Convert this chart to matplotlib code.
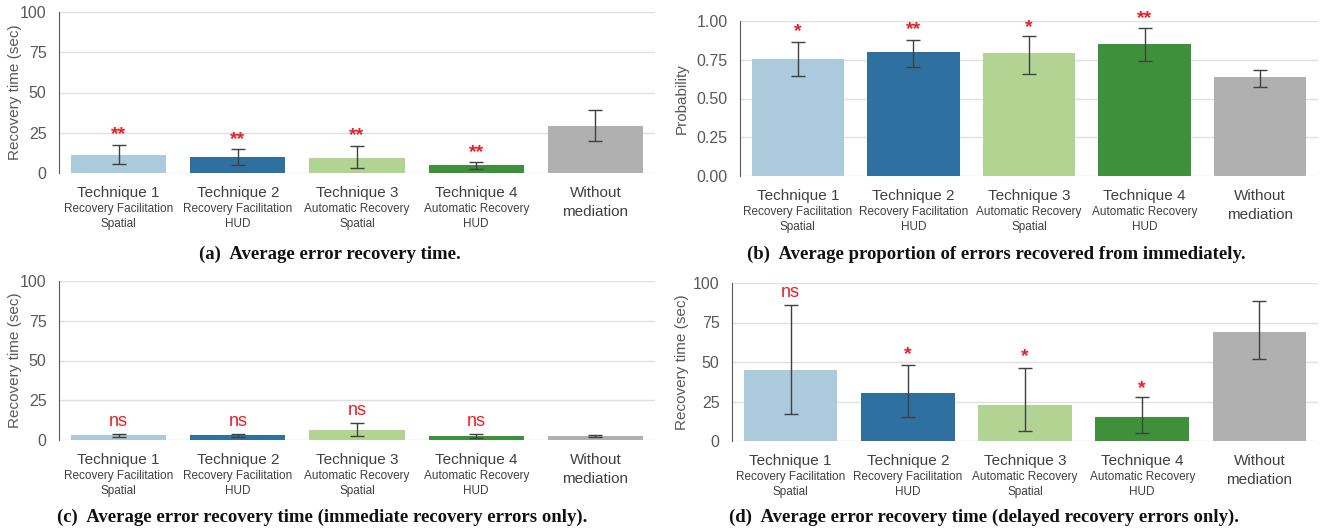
import matplotlib.pyplot as plt

plt.rcParams['font.family'] = ['Liberation Sans', 'DejaVu Sans']

techniques = ['Technique 1', 'Technique 2', 'Technique 3', 'Technique 4']
subtypes = ['Recovery Facilitation', 'Recovery Facilitation', 'Automatic Recovery', 'Automatic Recovery']
displays = ['Spatial', 'HUD', 'Spatial', 'HUD']
baseline_label = ['Without', 'mediation']
colors = ['#abcadb', '#2e71a0', '#b2d493', '#3e913a', '#b0b0b0']

# (a) average error recovery time
a_mean = [11.0, 9.8, 9.1, 4.8, 29.1]
a_low = [5.6, 5.2, 3.1, 2.3, 19.8]
a_high = [17.7, 15.0, 17.0, 6.9, 39.3]
a_sig = ['**', '**', '**', '**', '']
a_sig_y = [26.6, 23.5, 26.0, 15.2, 0]

# (b) proportion recovered immediately
b_mean = [0.757, 0.798, 0.791, 0.849, 0.637]
b_low = [0.643, 0.705, 0.658, 0.742, 0.576]
b_high = [0.865, 0.877, 0.905, 0.955, 0.684]
b_sig = ['*', '**', '*', '**', '']
b_sig_y = [0.957, 0.968, 0.985, 1.04, 0]

# (c) immediate recovery errors only
c_mean = [3.1, 3.1, 6.2, 2.3, 2.5]
c_low = [2.1, 2.1, 2.3, 1.4, 1.9]
c_high = [3.5, 3.5, 11.0, 3.7, 3.3]
c_sig = ['ns', 'ns', 'ns', 'ns', '']
c_sig_y = [11.4, 11.4, 18.6, 11.4, 0]

# (d) delayed recovery errors only
d_mean = [45.1, 30.6, 23.1, 14.9, 69.0]
d_low = [17.2, 15.3, 6.3, 4.8, 51.6]
d_high = [86.2, 47.8, 45.9, 27.7, 88.5]
d_sig = ['ns', '*', '*', '*', '']
d_sig_y = [94.0, 57.0, 56.0, 35.4, 0]

captions = ['(a)  Average error recovery time.',
            '(b)  Average proportion of errors recovered from immediately.',
            '(c)  Average error recovery time (immediate recovery errors only).',
            '(d)  Average error recovery time (delayed recovery errors only).']

W, H = 1320, 532
fig = plt.figure(figsize=(W / 100, H / 100), dpi=100)


def px_axes(x0, x1, ytop, ybot):
    return fig.add_axes([x0 / W, (H - ybot) / H, (x1 - x0) / W, (ybot - ytop) / H])


def draw_panel(ax, mean, low, high, sig, sig_y, ymax, ticks, ticklabels, ylabel, label_x):
    x = list(range(len(mean)))
    yerr = [[m - l for m, l in zip(mean, low)], [h - m for m, h in zip(mean, high)]]
    ax.bar(x, mean, width=0.8, color=colors, zorder=2)
    ax.errorbar(x, mean, yerr=yerr, fmt='none', ecolor='#404040', elinewidth=1,
                capsize=5, capthick=1, zorder=3)
    for i, s in enumerate(sig):
        if not s:
            continue
        if s == 'ns':
            ax.text(i, sig_y[i], s, color='#e8202a', fontsize=13, ha='center', va='center',
                    zorder=4, clip_on=False)
        else:
            ax.annotate(s, xy=(i, sig_y[i]), xytext=(0, -4), textcoords='offset pixels',
                        color='#e8202a', fontsize=14, fontweight='bold',
                        ha='center', va='center', zorder=4, annotation_clip=False)
    ax.set_xlim(-0.5, len(mean) - 0.5)
    ax.set_ylim(0, ymax)
    ax.set_yticks(ticks)
    ax.set_yticklabels(ticklabels, color='#595959', fontsize=11.5)
    ax.tick_params(axis='y', length=0, pad=9)
    ax.tick_params(axis='x', length=0)
    ax.set_xticks([])
    ax.grid(axis='y', color='#e0e0e0', lw=1, zorder=0)
    for s in ['top', 'right', 'bottom']:
        ax.spines[s].set_visible(False)
    ax.spines['left'].set_color('#595959')
    ax.set_ylabel(ylabel, color='#595959', fontsize=11)
    bb = ax.get_position()
    ax.yaxis.set_label_coords((label_x / W - bb.x0) / bb.width, 0.5)

    tr = ax.get_xaxis_transform()
    for i in range(4):
        ax.annotate(techniques[i], xy=(i, 0), xycoords=tr, xytext=(0, -20),
                    textcoords='offset pixels', ha='center', va='center',
                    fontsize=11, color='#404040')
        ax.annotate(subtypes[i], xy=(i, 0), xycoords=tr, xytext=(0, -36),
                    textcoords='offset pixels', ha='center', va='center',
                    fontsize=8.5, color='#404040')
        ax.annotate(displays[i], xy=(i, 0), xycoords=tr, xytext=(0, -51),
                    textcoords='offset pixels', ha='center', va='center',
                    fontsize=8.5, color='#404040')
    ax.annotate(baseline_label[0], xy=(4, 0), xycoords=tr, xytext=(0, -20),
                textcoords='offset pixels', ha='center', va='center',
                fontsize=11, color='#404040')
    ax.annotate(baseline_label[1], xy=(4, 0), xycoords=tr, xytext=(0, -39),
                textcoords='offset pixels', ha='center', va='center',
                fontsize=11, color='#404040')


sec_ticks = [0, 25, 50, 75, 100]
sec_labels = ['0', '25', '50', '75', '100']
prob_ticks = [0, 0.25, 0.5, 0.75, 1.0]
prob_labels = ['0.00', '0.25', '0.50', '0.75', '1.00']

ax_a = px_axes(59, 655, 12, 173)
draw_panel(ax_a, a_mean, a_low, a_high, a_sig, a_sig_y, 100, sec_ticks, sec_labels,
           'Recovery time (sec)', 22)
ax_b = px_axes(740, 1318, 21, 176)
draw_panel(ax_b, b_mean, b_low, b_high, b_sig, b_sig_y, 1.0, prob_ticks, prob_labels,
           'Probability', 689)
ax_c = px_axes(59, 655, 281, 440)
draw_panel(ax_c, c_mean, c_low, c_high, c_sig, c_sig_y, 100, sec_ticks, sec_labels,
           'Recovery time (sec)', 22)
ax_d = px_axes(732, 1318, 283, 441)
draw_panel(ax_d, d_mean, d_low, d_high, d_sig, d_sig_y, 100, sec_ticks, sec_labels,
           'Recovery time (sec)', 689)

cap_pos = [(330, 254), (996, 254), (322, 517), (984, 517)]
for (cx, cy), cap in zip(cap_pos, captions):
    fig.text(cx / W, (H - cy) / H, cap, ha='center', va='center', fontsize=13.5,
             fontweight='bold', family='Liberation Serif', color='#111111')

fig.savefig('out.png', dpi=100)
